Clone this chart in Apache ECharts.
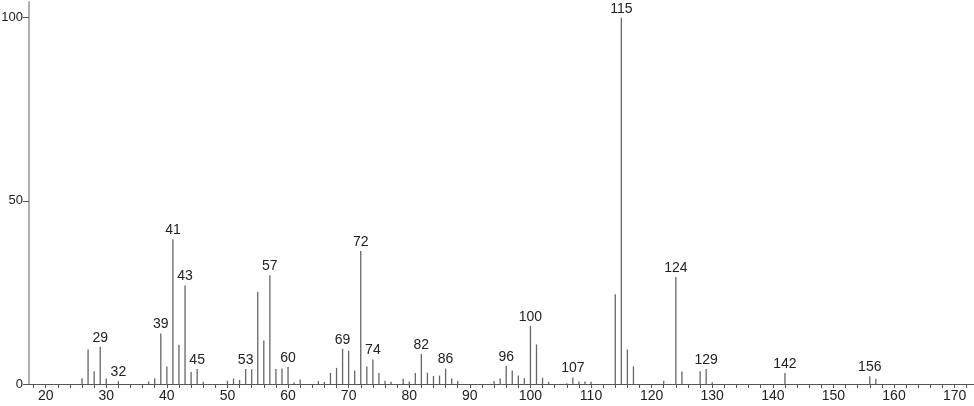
<!DOCTYPE html>
<html>
<head>
<meta charset="utf-8">
<script src="https://cdn.jsdelivr.net/npm/echarts@6/dist/echarts.min.js"></script>
<style>
  html, body { margin: 0; padding: 0; background: #fff; }
  #spec { width: 974px; height: 406px; }
</style>
</head>
<body>
<div id="spec"></div>
<script>
// m/z values and relative intensities
var mz = [26, 27, 28, 29, 30, 32, 37, 38, 39, 40, 41, 42, 43, 44, 45, 46,
          50, 51, 52, 53, 54, 55, 56, 57, 58, 59, 60, 61, 62, 65, 66, 67, 68, 69, 70, 71, 72, 73, 74, 75, 76, 77, 79, 80, 81, 82,
          83, 84, 85, 86, 87, 88, 94, 95, 96, 97, 98, 99, 100, 101, 102, 103, 106, 107, 108, 109, 110,
          114, 115, 116, 117, 122, 124, 125, 128, 129, 130, 142, 156, 157];
var intensity = [1.6, 9.4, 3.5, 10.2, 1.5, 0.8, 0.7, 1.6, 13.8, 4.8, 39.5, 10.7, 26.9, 3.3, 4.1, 0.6,
          0.9, 1.5, 1.1, 4.1, 4.0, 25.2, 11.9, 29.7, 4.1, 4.2, 4.7, 0.5, 1.2, 0.8, 0.6, 3.0, 4.4, 9.6, 9.1, 3.7, 36.3, 4.8, 6.7, 3.0, 0.9, 0.6, 1.4, 0.7, 3.0, 8.2,
          3.1, 2.2, 2.3, 4.2, 1.5, 0.8, 0.8, 1.5, 5.0, 3.7, 2.3, 1.6, 15.9, 10.8, 1.7, 0.6, 0.2, 1.8, 0.7, 0.7, 0.6,
          24.5, 100, 9.4, 4.8, 0.9, 29.2, 3.4, 3.5, 4.1, 0.5, 3.0, 2.1, 1.4];
// peaks that carry their m/z as a label
var labelled = [29, 32, 39, 41, 43, 45, 53, 57, 60, 69, 72, 74, 82, 86, 96, 100, 107, 115, 124, 129, 142, 156];
var xLabels = [20, 30, 40, 50, 60, 70, 80, 90, 100, 110, 120, 130, 140, 150, 160, 170];
var xTicks = [];
for (var t = 18; t <= 172; t += 2) xTicks.push(t);
var yLabels = [0, 50, 100];

var font = 'Liberation Sans';

var data = mz.map(function (m, i) {
  var item = { value: [m, intensity[i]] };
  if (labelled.indexOf(m) >= 0) {
    item.label = { show: true };
  }
  return item;
});

var spec = echarts.init(document.getElementById('spec'));

var option = {
  animation: false,
  grid: { left: 29, right: 0, top: 2, bottom: 22, outerBoundsMode: 'none', containLabel: false },
  xAxis: {
    type: 'value',
    min: 17.25,
    max: 173.2,
    splitLine: { show: false },
    axisLine: { show: true, onZero: false, lineStyle: { color: '#555', width: 1 } },
    axisTick: { show: true, customValues: xTicks, length: 4, lineStyle: { color: '#555' } },
    axisLabel: {
      customValues: xLabels,
      color: '#222',
      fontFamily: font,
      fontSize: 14,
      margin: 5
    }
  },
  yAxis: {
    type: 'value',
    min: 0,
    max: 104.3,
    splitLine: { show: false },
    axisLine: { show: true, lineStyle: { color: '#b0b0b0', width: 2 } },
    axisTick: { show: true, customValues: yLabels, length: 6, lineStyle: { color: '#555' } },
    axisLabel: {
      customValues: yLabels,
      color: '#222',
      fontFamily: font,
      fontSize: 13,
      margin: 6
    }
  },
  series: [
    {
      type: 'bar',
      barWidth: 1.3,
      itemStyle: { color: '#666' },
      label: {
        show: false,
        position: 'top',
        distance: 2,
        color: '#222',
        fontFamily: font,
        fontSize: 14,
        formatter: function (p) { return p.value[0]; }
      },
      data: data
    }
  ]
};

spec.setOption(option);
</script>
</body>
</html>
